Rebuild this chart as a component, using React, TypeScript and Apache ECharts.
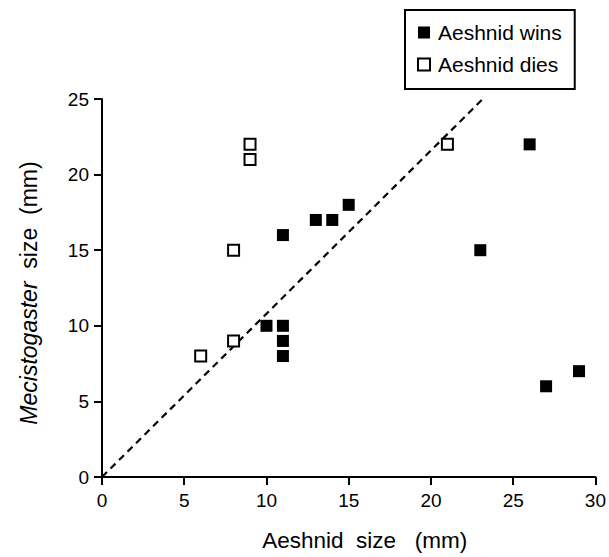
import React, { useEffect, useRef } from "react";
import * as echarts from "echarts";

const winsX = [10, 11, 11, 11, 11, 13, 14, 15, 23, 26, 27, 29];
const winsY = [10, 10, 9, 8, 16, 17, 17, 18, 15, 22, 6, 7];
const diesX = [6, 8, 8, 9, 9, 21];
const diesY = [8, 9, 15, 21, 22, 22];
const refLineX = [0, 23.15];
const refLineY = [0, 25];
const seriesNames = ["Aeshnid wins", "Aeshnid dies"];
const xTitle = "Aeshnid  size   (mm)";
const yTitleItalic = "Mecistogaster";
const yTitleRest = "  size  (mm)";

const FONT = "'Liberation Sans', Arial, Helvetica, sans-serif";

export default function App() {
  const ref = useRef<HTMLDivElement>(null);
  useEffect(() => {
    if (!ref.current) return;
    const chart = echarts.init(ref.current, undefined, { renderer: "svg" });
    const zip = (xs: number[], ys: number[]) => xs.map((x, i) => [x, ys[i]]);
    chart.setOption({
      animation: false,
      backgroundColor: "#fff",
      textStyle: { fontFamily: FONT, color: "#000" },
      grid: { left: 102, right: 12, top: 99, bottom: 74 },
      legend: {
        left: 405,
        top: 10,
        orient: "vertical",
        data: seriesNames,
        itemWidth: 12,
        itemHeight: 12,
        itemGap: 11,
        padding: [12, 13, 14, 12],
        borderColor: "#000",
        borderWidth: 2,
        backgroundColor: "#fff",
        textStyle: {
          fontFamily: FONT,
          fontSize: 21,
          lineHeight: 21,
          color: "#000",
          padding: [0, 0, 0, 3],
        },
      },
      xAxis: {
        type: "value",
        min: 0,
        max: 30,
        interval: 5,
        name: xTitle,
        nameLocation: "middle",
        nameGap: 52,
        nameTextStyle: {
          fontFamily: FONT,
          fontSize: 22.5,
          color: "#000",
          padding: [0, 0, 0, 32],
        },
        axisLine: { onZero: false, lineStyle: { color: "#000", width: 2 } },
        axisTick: { show: true, length: 8, lineStyle: { color: "#000", width: 2 } },
        axisLabel: { fontFamily: FONT, fontSize: 19, color: "#000", margin: 14 },
        splitLine: { show: false },
      },
      yAxis: {
        type: "value",
        min: 0,
        max: 25,
        interval: 5,
        name: `{i|${yTitleItalic}}{n|${yTitleRest}}`,
        nameLocation: "middle",
        nameGap: 62,
        nameRotate: 90,
        nameTextStyle: {
          fontFamily: FONT,
          fontSize: 23,
          color: "#000",
          padding: [0, 10, 0, 0],
          rich: {
            i: { fontFamily: FONT, fontSize: 23, fontStyle: "italic", color: "#000" },
            n: { fontFamily: FONT, fontSize: 23, color: "#000" },
          },
        },
        axisLine: { onZero: false, lineStyle: { color: "#000", width: 2 } },
        axisTick: { show: true, length: 8, lineStyle: { color: "#000", width: 2 } },
        axisLabel: { fontFamily: FONT, fontSize: 19, color: "#000", margin: 13 },
        splitLine: { show: false },
      },
      series: [
        {
          type: "line",
          name: "ref",
          data: zip(refLineX, refLineY),
          symbol: "none",
          z: 1,
          lineStyle: { color: "#000", width: 2.2, type: [7, 5] },
          silent: true,
        },
        {
          type: "scatter",
          name: seriesNames[0],
          data: zip(winsX, winsY),
          symbol: "rect",
          symbolSize: 12,
          z: 3,
          itemStyle: { color: "#000", opacity: 1 },
        },
        {
          type: "scatter",
          name: seriesNames[1],
          data: zip(diesX, diesY),
          symbol: "rect",
          symbolSize: 11,
          z: 3,
          itemStyle: { color: "#fff", borderColor: "#000", borderWidth: 2, opacity: 1 },
        },
      ],
    });
    return () => chart.dispose();
  }, []);
  return (
    <div
      ref={ref}
      style={{ position: "fixed", left: 0, top: 0, width: 609, height: 557 }}
    />
  );
}
